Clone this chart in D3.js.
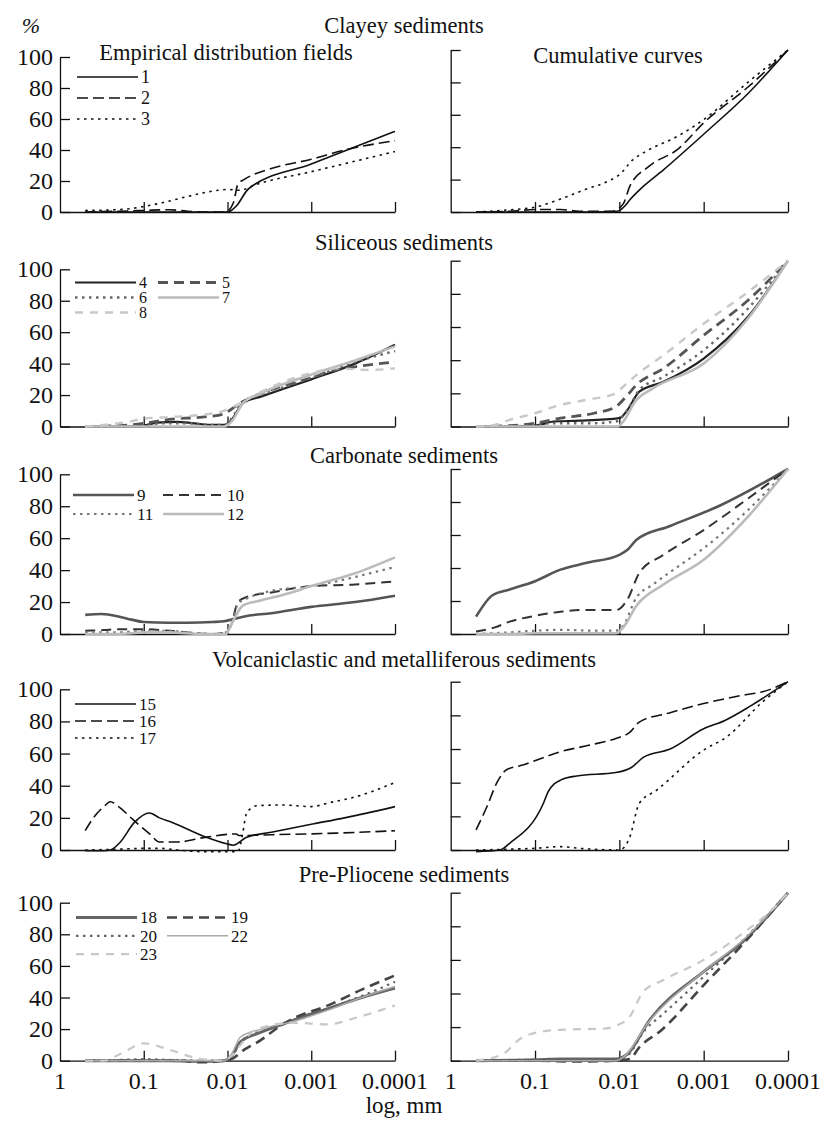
<!DOCTYPE html>
<html>
<head>
<meta charset="utf-8">
<script src="https://cdn.jsdelivr.net/npm/d3@7"></script>
<style>
  body { margin: 0; background: #fff; }
</style>
</head>
<body>
<svg id="chart" width="827" height="1121" font-family="'Liberation Serif', 'DejaVu Serif', serif"></svg>
<script>
// ---- data: [size in mm, percent] ----
const xTicks = [1, 0.1, 0.01, 0.001, 0.0001];
const xTickLabels = ["1", "0.1", "0.01", "0.001", "0.0001"];
const yTicks = [0, 20, 40, 60, 80, 100];

const groupTitles = [
  "Clayey sediments",
  "Siliceous sediments",
  "Carbonate sediments",
  "Volcaniclastic and metalliferous sediments",
  "Pre-Pliocene sediments"
];
const legendNames = [
  ["1", "2", "3"],
  ["4", "5", "6", "7", "8"],
  ["9", "10", "11", "12"],
  ["15", "16", "17"],
  ["18", "19", "20", "22", "23"]
];

// clayey
const clayeyFields = [
  [[0.5,0],[0.1,0],[0.02,0],[0.0105,0],[0.009,1],[0.0078,4],[0.0056,15],[0.001,31],[0.0001,52]],
  [[0.5,0],[0.2,0.5],[0.1,1],[0.05,1.5],[0.03,0.5],[0.015,0],[0.0105,0],[0.0085,6],[0.0075,18],[0.0063,21],[0.003,28],[0.001,34],[0.0004,40],[0.0001,46]],
  [[0.5,1],[0.2,1.5],[0.1,3.5],[0.06,6],[0.03,10],[0.015,13.5],[0.01,14.5],[0.007,14],[0.005,17],[0.001,26],[0.0001,39]]
];
const clayeyCum = [
  [[0.5,0],[0.1,0],[0.02,0],[0.0105,0.5],[0.0085,4],[0.0075,7.5],[0.0058,13.5],[0.003,26],[0.001,48],[0.0003,73],[0.0001,100]],
  [[0.5,0],[0.2,0.5],[0.1,1.5],[0.05,1.5],[0.03,0.5],[0.012,0.5],[0.009,5],[0.0075,16],[0.0045,28],[0.002,39],[0.001,55],[0.0003,77],[0.0001,100]],
  [[0.5,0],[0.25,1],[0.1,3],[0.05,8],[0.025,14],[0.013,19.5],[0.01,23],[0.007,32],[0.005,37],[0.002,47],[0.001,57],[0.0003,80],[0.0001,100]]
];

// siliceous
const siliceousFields = [
  [[0.5,0],[0.15,0],[0.1,0.5],[0.07,2.5],[0.04,3],[0.025,2],[0.015,1],[0.0105,1],[0.009,4],[0.0065,15],[0.004,19],[0.001,30],[0.0003,40],[0.0001,52]],
  [[0.5,0],[0.2,0.5],[0.1,2],[0.05,4.5],[0.02,6],[0.011,8],[0.009,11],[0.0065,16],[0.004,21],[0.001,31],[0.0005,36],[0.0003,38],[0.0001,41]],
  [[0.5,0],[0.15,0],[0.1,1],[0.06,2],[0.03,2],[0.015,1],[0.011,1],[0.009,5],[0.0065,16],[0.004,20],[0.001,31],[0.0003,41],[0.0001,48]],
  [[0.5,0],[0.1,0],[0.03,0],[0.011,0],[0.009,3],[0.0065,15],[0.004,21],[0.001,33],[0.0003,42],[0.0001,51]],
  [[0.5,0],[0.3,1],[0.15,3],[0.1,5],[0.05,6],[0.025,7],[0.011,10],[0.009,12],[0.0065,16],[0.004,22],[0.001,34],[0.0005,37],[0.0002,36],[0.0001,37]]
];
const siliceousCum = [
  [[0.5,0],[0.2,0],[0.1,0.5],[0.06,3],[0.03,3.5],[0.01,5],[0.008,10],[0.0058,21],[0.003,27],[0.001,41],[0.0003,66],[0.0001,100]],
  [[0.5,0],[0.2,0.5],[0.1,2],[0.05,5],[0.02,8],[0.011,12],[0.008,19],[0.0063,25],[0.003,35],[0.001,55],[0.0003,76],[0.0001,100]],
  [[0.5,0],[0.2,0],[0.1,1],[0.06,2],[0.02,2],[0.011,3],[0.008,10],[0.0058,22],[0.003,30],[0.001,46],[0.0003,71],[0.0001,100]],
  [[0.5,0],[0.1,0],[0.02,0],[0.0105,0],[0.009,3],[0.0065,15],[0.004,23],[0.001,38],[0.0003,65],[0.0001,100]],
  [[0.5,0],[0.3,1],[0.2,4],[0.1,8],[0.05,13],[0.025,16],[0.011,20],[0.009,24],[0.0063,31],[0.003,43],[0.001,62],[0.0003,81],[0.0001,100]]
];

// carbonate
const carbonateFields = [
  [[0.5,12],[0.32,12.5],[0.2,11],[0.14,9],[0.1,7.5],[0.05,7],[0.03,7],[0.015,7.5],[0.011,8],[0.009,9],[0.0063,11],[0.003,13],[0.001,17],[0.0003,20],[0.0001,24]],
  [[0.5,2],[0.3,2.5],[0.2,3],[0.1,3],[0.05,2],[0.03,1],[0.015,0],[0.0105,1],[0.009,6],[0.0075,20],[0.006,23],[0.003,26],[0.001,30],[0.0003,31],[0.0001,33]],
  [[0.5,1],[0.2,1],[0.1,2],[0.05,2],[0.03,1],[0.015,0],[0.0105,1],[0.009,6],[0.0075,19],[0.006,22],[0.003,27],[0.001,30],[0.0005,33],[0.0002,38],[0.0001,42]],
  [[0.5,0],[0.2,0],[0.1,1],[0.05,1],[0.02,0],[0.0105,0],[0.009,6],[0.0065,18],[0.004,21],[0.002,25],[0.001,30],[0.0003,38],[0.0001,48]]
];
const carbonateCum = [
  [[0.5,10.5],[0.32,23.5],[0.2,27],[0.1,32],[0.05,39],[0.025,43],[0.01,48],[0.008,51],[0.0063,57],[0.0025,65.5],[0.00063,78],[0.0001,100]],
  [[0.5,1.5],[0.3,4],[0.2,7.5],[0.1,11],[0.05,13.5],[0.03,14.5],[0.011,14.5],[0.008,21],[0.0058,37],[0.003,48],[0.001,63],[0.0003,82],[0.0001,100]],
  [[0.5,0],[0.2,1],[0.1,2],[0.05,2.5],[0.02,2],[0.011,2],[0.009,5],[0.0063,22],[0.004,30],[0.002,41],[0.001,52],[0.0003,75],[0.0001,100]],
  [[0.5,0],[0.2,0],[0.1,0.5],[0.02,0.5],[0.011,0.5],[0.009,4],[0.0063,17],[0.003,30],[0.001,45],[0.0003,71],[0.0001,100]]
];

// volcaniclastic and metalliferous
const volcanicFields = [
  [[0.5,-0.5],[0.3,-0.5],[0.25,0],[0.19,5],[0.13,17],[0.085,23],[0.065,20],[0.045,17],[0.018,8],[0.0105,4],[0.0085,3],[0.0059,8],[0.003,11],[0.001,16],[0.0004,20],[0.0001,27]],
  [[0.5,12],[0.4,20],[0.3,27],[0.25,30],[0.2,27],[0.135,19],[0.085,10],[0.065,5],[0.04,5],[0.018,8],[0.0078,10],[0.0074,9],[0.003,9.5],[0.0005,10.5],[0.0001,12]],
  [[0.5,0],[0.2,0.5],[0.1,1],[0.06,1],[0.04,0],[0.02,-1],[0.0075,-1],[0.0066,10],[0.006,22],[0.0052,26],[0.0045,27.5],[0.0022,28],[0.001,27],[0.0006,29.5],[0.0003,33],[0.0001,42]]
];
const volcanicCum = [
  [[0.5,-1],[0.26,0],[0.2,4],[0.08,27.5],[0.07,34.5],[0.05,41.5],[0.032,44],[0.011,46],[0.0072,49],[0.0052,55],[0.0025,60],[0.001,72],[0.00056,77],[0.00028,85.5],[0.0001,100]],
  [[0.5,12],[0.37,26],[0.28,40.5],[0.22,47.5],[0.14,50.5],[0.095,53.5],[0.05,58.4],[0.022,62.4],[0.011,66.3],[0.0076,69.7],[0.0058,76],[0.0025,81.6],[0.001,87],[0.00034,92],[0.0002,94],[0.0001,100]],
  [[0.5,0],[0.2,0.5],[0.1,1],[0.05,2],[0.03,1],[0.01,0],[0.0076,7],[0.0058,27.7],[0.0036,35.6],[0.001,59.4],[0.00054,67],[0.0002,88],[0.0001,100]]
];

// pre-Pliocene
const prePlioceneFields = [
  [[0.5,0],[0.1,0],[0.05,0],[0.02,-0.5],[0.011,0],[0.009,3],[0.007,12],[0.0045,17],[0.0025,22],[0.0014,27],[0.00063,33],[0.00025,40],[0.0001,46]],
  [[0.5,0],[0.1,0],[0.04,0],[0.02,-1],[0.011,0],[0.009,1],[0.0063,7],[0.004,13],[0.0025,21],[0.0016,27],[0.00063,35],[0.00025,45],[0.0001,54]],
  [[0.5,0],[0.2,0.5],[0.1,1],[0.05,0.5],[0.02,0],[0.011,0],[0.009,3],[0.0063,14],[0.0032,20],[0.0013,27],[0.0005,35],[0.0002,43],[0.0001,50]],
  [[0.5,0],[0.1,0],[0.02,0],[0.011,0],[0.009,4],[0.007,15],[0.004,20],[0.0016,25],[0.00063,32],[0.00025,40],[0.0001,47]],
  [[0.5,0],[0.3,0],[0.18,5],[0.1,11],[0.05,7],[0.025,2],[0.011,0],[0.009,3],[0.007,10],[0.0045,20],[0.0016,24],[0.00063,23],[0.0003,27],[0.0001,35]]
];
const prePlioceneCum = [
  [[0.5,0],[0.1,0.5],[0.05,1],[0.011,1],[0.008,4],[0.0044,24],[0.001,53],[0.00034,71],[0.0001,100]],
  [[0.5,0],[0.1,0],[0.03,-0.5],[0.011,0],[0.0075,1],[0.0058,8],[0.0032,18],[0.001,45],[0.00032,71],[0.0001,100]],
  [[0.5,0],[0.1,0.5],[0.05,0.5],[0.011,0.5],[0.008,3],[0.005,18],[0.003,28],[0.001,50],[0.00032,73],[0.0001,100]],
  [[0.5,0],[0.1,0],[0.011,0],[0.009,2],[0.0045,23],[0.001,53],[0.00032,73],[0.0001,100]],
  [[0.5,0],[0.24,4],[0.14,14],[0.066,18],[0.039,18.6],[0.016,19],[0.0107,21],[0.0076,26],[0.0052,41],[0.003,48],[0.001,60],[0.00034,76],[0.00014,92],[0.0001,100]]
];

const fieldData = [clayeyFields, siliceousFields, carbonateFields, volcanicFields, prePlioceneFields];
const cumData = [clayeyCum, siliceousCum, carbonateCum, volcanicCum, prePlioceneCum];

// ---- styles (per group, per series) ----
const DASH = "10,6", DOT = "2.5,4.5", LDASH = "8,7";
const groupStyles = [
  [{c:"#111", w:1.6, d:null}, {c:"#111", w:1.6, d:"11,5"}, {c:"#111", w:1.6, d:DOT}],
  [{c:"#222", w:2.2, d:null}, {c:"#555", w:2.8, d:DASH}, {c:"#666", w:2.4, d:DOT},
   {c:"#bbb", w:2.6, d:null}, {c:"#c8c8c8", w:2.4, d:LDASH}],
  [{c:"#555", w:2.6, d:null}, {c:"#333", w:2, d:DASH}, {c:"#777", w:2.2, d:DOT}, {c:"#bbb", w:2.6, d:null}],
  [{c:"#111", w:1.6, d:null}, {c:"#111", w:1.6, d:"11,5"}, {c:"#111", w:1.6, d:DOT}],
  [{c:"#666", w:3, d:null}, {c:"#444", w:2.6, d:DASH}, {c:"#666", w:2.2, d:DOT},
   {c:"#aaa", w:1.5, d:null}, {c:"#c8c8c8", w:2.2, d:LDASH}]
];

// ---- layout ----
const W = 827, H = 1121;
const FONT = "'Liberation Serif', 'DejaVu Serif', serif";
const leftX = [60, 395], rightX = [450.7, 788];
const rowBase = [212, 426.5, 634, 850, 1060.7];
const leftTop = [57, 269.3, 474.3, 689.3, 902.7];
const rightTop = [50, 260.7, 469, 681.7, 892.7];
const titleY = [33, 250, 463, 667, 882];
const legendLayout = [
  {x:77, y:77, dy:21, cols:1, colDx:0, fs:18},
  {x:75, y:282.5, dy:15, cols:2, colDx:83, fs:16},
  {x:73, y:495, dy:19, cols:2, colDx:90, fs:17},
  {x:75, y:704, dy:17, cols:1, colDx:0, fs:17},
  {x:76, y:917.5, dy:18.3, cols:2, colDx:91, fs:17}
];

const svg = d3.select("#chart");
svg.append("rect").attr("width", W).attr("height", H).attr("fill", "#fff");

function addText(x, y, str, size, anchor) {
  return svg.append("text")
    .attr("x", x).attr("y", y)
    .attr("font-family", FONT)
    .attr("font-size", size)
    .attr("fill", "#111")
    .attr("text-anchor", anchor || "start")
    .text(str);
}

function drawPanel(rowIdx, xr, top, series, styles, showYLabels, showXLabels) {
  const x = d3.scaleLog().domain([1, 0.0001]).range(xr);
  const y = d3.scaleLinear().domain([0, 100]).range([rowBase[rowIdx], top]);
  const g = svg.append("g");

  // y axis: ticks pointing into the plot
  const yAxis = d3.axisRight(y).tickValues(yTicks).tickSize(10).tickSizeOuter(0).tickFormat("");
  g.append("g").attr("transform", `translate(${xr[0]},0)`).call(yAxis)
    .call(a => a.selectAll("line,path").attr("stroke", "#111").attr("stroke-width", 1.3));

  if (showYLabels) {
    yTicks.forEach(t => addText(xr[0] - 7, y(t) + 8, t, 24, "end"));
  }

  // x axis: ticks pointing up
  const xAxis = d3.axisTop(x).tickValues(xTicks.slice(1)).tickSize(10).tickSizeOuter(0).tickFormat("");
  g.append("g").attr("transform", `translate(0,${rowBase[rowIdx]})`).call(xAxis)
    .call(a => a.selectAll("line,path").attr("stroke", "#111").attr("stroke-width", 1.3));

  if (showXLabels) {
    xTicks.forEach((t, i) => addText(x(t), rowBase[rowIdx] + 28, xTickLabels[i], 24, "middle"));
  }

  const line = d3.line()
    .x(d => x(d[0]))
    .y(d => y(d[1]))
    .curve(d3.curveMonotoneX);

  series.forEach((s, i) => {
    const st = styles[i];
    g.append("path").datum(s)
      .attr("d", line)
      .attr("fill", "none")
      .attr("stroke", st.c)
      .attr("stroke-width", st.w)
      .attr("stroke-dasharray", st.d)
      .attr("stroke-linejoin", "round");
  });
}

function drawLegend(rowIdx) {
  const L = legendLayout[rowIdx];
  const names = legendNames[rowIdx];
  const styles = groupStyles[rowIdx];
  names.forEach((n, i) => {
    const col = i % L.cols, row = Math.floor(i / L.cols);
    const x0 = L.x + col * L.colDx, yy = L.y + row * L.dy;
    svg.append("line")
      .attr("x1", x0).attr("x2", x0 + 61).attr("y1", yy).attr("y2", yy)
      .attr("stroke", styles[i].c).attr("stroke-width", styles[i].w)
      .attr("stroke-dasharray", styles[i].d);
    addText(x0 + 64, yy + L.fs * 0.34, n, L.fs);
  });
}

for (let r = 0; r < 5; r++) {
  const last = r === 4;
  drawPanel(r, leftX, leftTop[r], fieldData[r], groupStyles[r], true, last);
  drawPanel(r, rightX, rightTop[r], cumData[r], groupStyles[r], false, last);
  drawLegend(r);
  addText(404, titleY[r], groupTitles[r], 22.5, "middle");
}

addText(226, 60, "Empirical distribution fields", 22.5, "middle");
addText(618, 63, "Cumulative curves", 22.5, "middle");
addText(31, 33, "%", 22, "middle").attr("font-style", "italic");
addText(404, 1113, "log, mm", 23, "middle");
</script>
</body>
</html>
